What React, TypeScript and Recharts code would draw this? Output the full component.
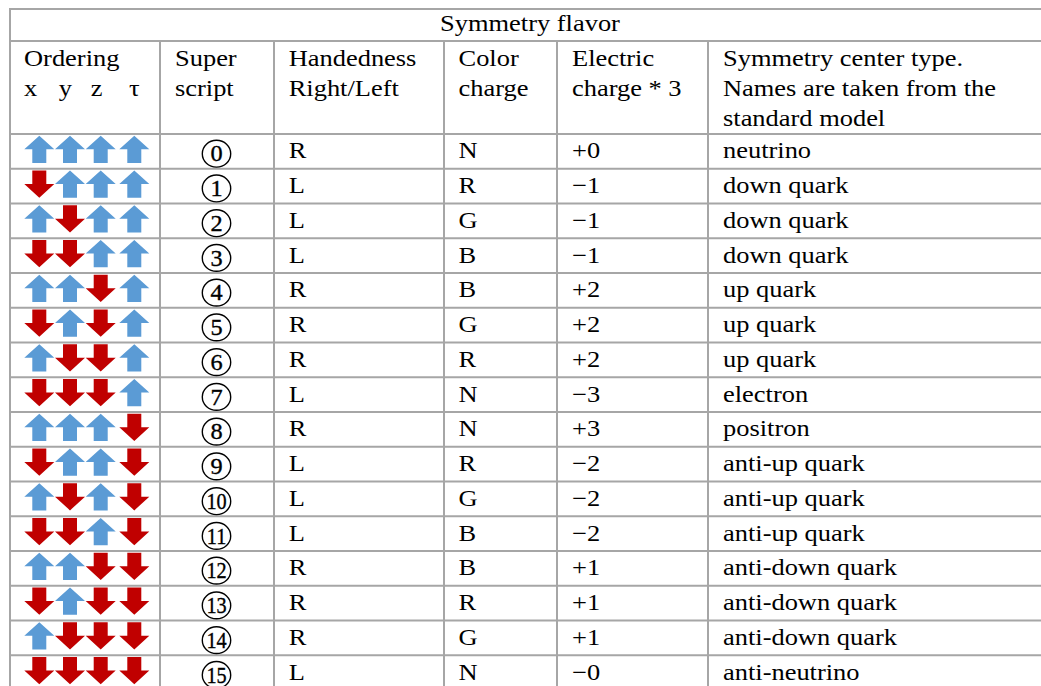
import React from 'react';
import { ScatterChart, Scatter, XAxis, YAxis, ReferenceLine } from 'recharts';

// ---------- content ----------
const titleText = 'Symmetry flavor';
const headerOrdering = ['Ordering'];
const axisLetters = ['x', 'y', 'z', 'τ'];
const headerSuper = ['Super', 'script'];
const headerHand = ['Handedness', 'Right/Left'];
const headerColor = ['Color', 'charge'];
const headerCharge = ['Electric', 'charge * 3'];
const headerType = ['Symmetry center type.', 'Names are taken from the', 'standard model'];

// U = blue up arrow, D = red down arrow ; order x y z τ
const orderings = [
  'UUUU', 'DUUU', 'UDUU', 'DDUU', 'UUDU', 'DUDU', 'UDDU', 'DDDU',
  'UUUD', 'DUUD', 'UDUD', 'DDUD', 'UUDD', 'DUDD', 'UDDD', 'DDDD',
];
// circled superscript numbers (drawn as a digit inside a circle)
const superscripts = ['0', '1', '2', '3', '4', '5', '6', '7', '8', '9', '10', '11', '12', '13', '14', '15'];
const handedness = ['R', 'L', 'L', 'L', 'R', 'R', 'R', 'L', 'R', 'L', 'L', 'L', 'R', 'R', 'R', 'L'];
const colorCharges = ['N', 'R', 'G', 'B', 'B', 'G', 'R', 'N', 'N', 'R', 'G', 'B', 'B', 'R', 'G', 'N'];
const electricCharges = ['+0', '−1', '−1', '−1', '+2', '+2', '+2', '−3', '+3', '−2', '−2', '−2', '+1', '+1', '+1', '−0'];
const centerTypes = [
  'neutrino', 'down quark', 'down quark', 'down quark', 'up quark', 'up quark', 'up quark', 'electron',
  'positron', 'anti-up quark', 'anti-up quark', 'anti-up quark', 'anti-down quark', 'anti-down quark',
  'anti-down quark', 'anti-neutrino',
];

// ---------- layout ----------
const W = 1041;
const H = 686;
const ROW_TOP = 134;
const ROW_H = 34.75;
const toV = (py: number) => (py - ROW_TOP) / ROW_H;
const TABLE_TOP = 9;
const TITLE_BOTTOM = 41;
const LEFT = 10;
const colLines = [160, 274, 444, 557, 708];
const textX = [24, 175, 288.7, 458.5, 572, 723];
const slotX = [39.3, 70, 100.7, 134.3];
const letterX = [24, 58.7, 90.7, 129];
const headerBaselines = [66, 95.5, 126];
const TITLE_X = 530;
const TITLE_BASE = 31;
const SUPER_X = 216.5;
const GRID = '#a6a6a6';
const FONT = "'Liberation Serif', 'Times New Roman', serif";
const FS = 23;
const SX = 1.15;

// ---------- derived data ----------
const arrowData = orderings.flatMap((o, i) =>
  o.split('').map((c, j) => ({ x: slotX[j], y: i + 0.5, down: c === 'D' }))
);

const bodyColumns = [handedness, colorCharges, electricCharges, centerTypes];
const bodyText = bodyColumns.flatMap((col, k) =>
  col.map((label, i) => ({ x: textX[k + 2], y: i + 0.5, label }))
);
const superData = superscripts.map((label, i) => ({ x: SUPER_X, y: i + 0.5, label }));

const headerCols = [headerOrdering, headerSuper, headerHand, headerColor, headerCharge, headerType];
const headerText = [
  ...headerCols.flatMap((lines, k) =>
    lines.map((label, l) => ({ x: textX[k], y: toV(headerBaselines[l]), label }))
  ),
  ...axisLetters.map((label, j) => ({ x: letterX[j], y: toV(headerBaselines[1]), label })),
];
const titleData = [{ x: TITLE_X, y: toV(TITLE_BASE), label: titleText }];

// ---------- shapes ----------
const ArrowShape = (props: any) => {
  const { cx, cy, payload } = props;
  const c = cy - 2.1;
  const hw = 15;
  const sw = 7;
  const h = 13.6;
  let pts: number[][];
  if (payload.down) {
    pts = [
      [cx - sw, c - h], [cx + sw, c - h], [cx + sw, c], [cx + hw, c],
      [cx, c + h], [cx - hw, c], [cx - sw, c],
    ];
  } else {
    pts = [
      [cx, c - h], [cx + hw, c], [cx + sw, c], [cx + sw, c + h],
      [cx - sw, c + h], [cx - sw, c], [cx - hw, c],
    ];
  }
  return (
    <polygon
      points={pts.map((p) => p.join(',')).join(' ')}
      fill={payload.down ? '#c00000' : '#5b9bd5'}
    />
  );
};

const BodyTextShape = (props: any) => {
  const { cx, cy, payload } = props;
  return (
    <text
      transform={`translate(${cx},${cy + 7}) scale(${SX},1)`}
      fontFamily={FONT}
      fontSize={FS}
      fill="#000"
    >
      {payload.label}
    </text>
  );
};

const HeaderTextShape = (props: any) => {
  const { cx, cy, payload } = props;
  return (
    <text
      transform={`translate(${cx},${cy}) scale(${SX},1)`}
      fontFamily={FONT}
      fontSize={FS}
      fill="#000"
    >
      {payload.label}
    </text>
  );
};

const TitleShape = (props: any) => {
  const { cx, cy, payload } = props;
  return (
    <text
      transform={`translate(${cx},${cy}) scale(${SX},1)`}
      fontFamily={FONT}
      fontSize={FS}
      textAnchor="middle"
      fill="#000"
    >
      {payload.label}
    </text>
  );
};

const SuperShape = (props: any) => {
  const { cx, cy, payload } = props;
  const c = cy + 2.3;
  const two = payload.label.length > 1;
  return (
    <g>
      <ellipse cx={cx} cy={c} rx={14.2} ry={13.4} fill="none" stroke="#000" strokeWidth={1.4} />
      <text
        transform={`translate(${cx},${c + 7.8}) scale(${two ? 0.9 : 1.08},1)`}
        fontFamily={FONT}
        fontSize={22.5}
        textAnchor="middle"
        fill="#000"
        stroke="#000"
        strokeWidth={0.35}
      >
        {payload.label}
      </text>
    </g>
  );
};

export default function App() {
  const bottomV = 16;
  const hLines = [toV(TABLE_TOP), toV(TITLE_BOTTOM)];
  for (let i = 0; i <= 16; i++) hLines.push(i);
  return (
    <div style={{ position: 'absolute', left: 0, top: 0, width: W, height: H, background: '#fff' }}>
      <ScatterChart width={W} height={H} margin={{ top: 0, right: 0, bottom: 0, left: 0 }}>
        <XAxis type="number" dataKey="x" domain={[0, W]} hide allowDataOverflow />
        <YAxis
          type="number"
          dataKey="y"
          domain={[toV(0), toV(H)]}
          reversed
          hide
          width={0}
          allowDataOverflow
        />
        {hLines.map((v, i) => (
          <ReferenceLine
            key={`h${i}`}
            segment={[{ x: LEFT - 1, y: v }, { x: W + 5, y: v }]}
            stroke={GRID}
            strokeWidth={2}
            ifOverflow="visible"
          />
        ))}
        <ReferenceLine
          segment={[{ x: LEFT, y: toV(TABLE_TOP) - 0.03 }, { x: LEFT, y: bottomV }]}
          stroke={GRID}
          strokeWidth={2}
          ifOverflow="visible"
        />
        {colLines.map((x, i) => (
          <ReferenceLine
            key={`v${i}`}
            segment={[{ x, y: toV(TITLE_BOTTOM) }, { x, y: bottomV }]}
            stroke={GRID}
            strokeWidth={2}
            ifOverflow="visible"
          />
        ))}
        <Scatter data={arrowData} shape={ArrowShape} isAnimationActive={false} />
        <Scatter data={bodyText} shape={BodyTextShape} isAnimationActive={false} />
        <Scatter data={superData} shape={SuperShape} isAnimationActive={false} />
        <Scatter data={headerText} shape={HeaderTextShape} isAnimationActive={false} />
        <Scatter data={titleData} shape={TitleShape} isAnimationActive={false} />
      </ScatterChart>
    </div>
  );
}
